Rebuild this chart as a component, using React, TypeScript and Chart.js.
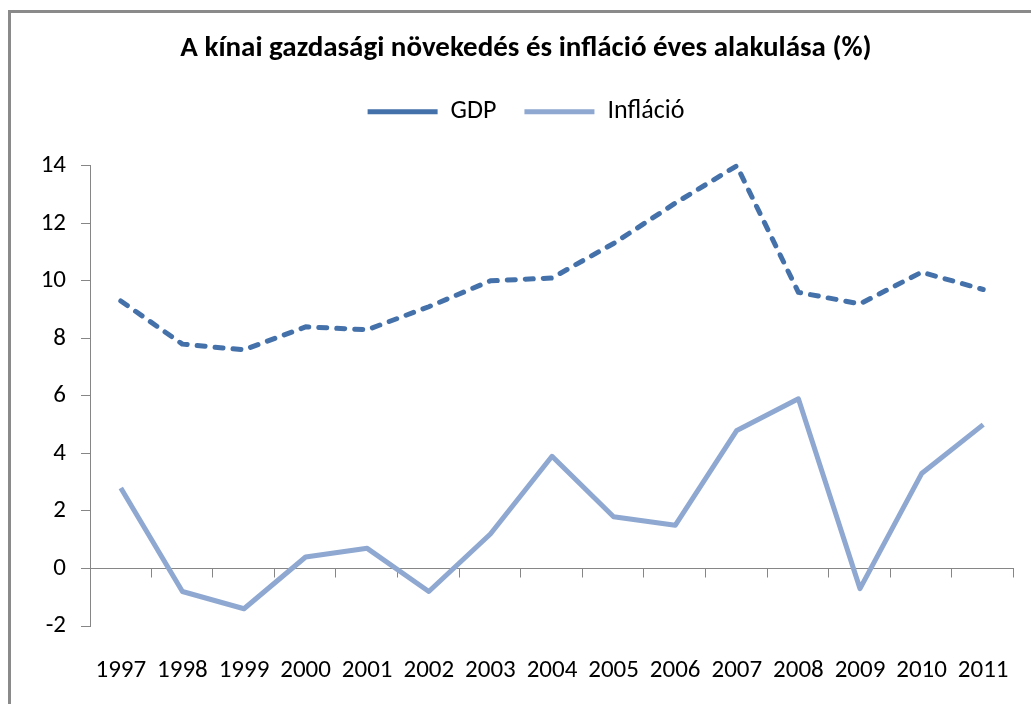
import React, { useEffect, useRef } from "react";
import { Chart, registerables } from "chart.js";

Chart.register(...registerables);

const titleText = "A kínai gazdasági növekedés és infláció éves alakulása (%)";
const years = ["1997", "1998", "1999", "2000", "2001", "2002", "2003", "2004", "2005", "2006", "2007", "2008", "2009", "2010", "2011"];
const gdpLabel = "GDP";
const inflationLabel = "Infláció";
const gdp = [9.3, 7.8, 7.6, 8.4, 8.3, 9.1, 10.0, 10.1, 11.3, 12.7, 14.0, 9.6, 9.2, 10.3, 9.7];
const inflation = [2.8, -0.8, -1.4, 0.4, 0.7, -0.8, 1.2, 3.9, 1.8, 1.5, 4.8, 5.9, -0.7, 3.3, 5.0];
const yMin = -2;
const yMax = 14;
const yStep = 2;

const FONT = "Carlito, Calibri, Lato, 'Open Sans', sans-serif";
const AXIS_GRAY = "#868686";

const framePlugin = {
  id: "frame",
  beforeDraw(chart: any) {
    const { ctx, width, height } = chart;
    ctx.save();
    ctx.fillStyle = "#ffffff";
    ctx.fillRect(0, 0, width, height);
    ctx.fillStyle = "#8a8a8a";
    ctx.fillRect(8, 10, width - 8, 3);
    ctx.fillRect(8, 10, 3, height - 10);
    ctx.restore();
  },
};

const zeroAxisPlugin = {
  id: "zeroAxis",
  beforeDatasetsDraw(chart: any) {
    const { ctx } = chart;
    const x = chart.scales.x;
    const y = chart.scales.y;
    const y0 = Math.round(y.getPixelForValue(0)) + 0.5;
    const n = chart.data.labels.length;
    const w = (x.right - x.left) / n;
    ctx.save();
    ctx.strokeStyle = AXIS_GRAY;
    ctx.lineWidth = 1;
    ctx.beginPath();
    ctx.moveTo(x.left, y0);
    ctx.lineTo(x.right, y0);
    for (let i = 1; i <= n; i++) {
      const px = Math.round(x.left + i * w) - 0.5;
      ctx.moveTo(px, y0);
      ctx.lineTo(px, y0 + 9);
    }
    ctx.stroke();
    ctx.restore();
  },
};

export default function App() {
  const ref = useRef<HTMLCanvasElement>(null);

  useEffect(() => {
    if (!ref.current) return;
    const chart = new Chart(ref.current, {
      type: "line",
      data: {
        labels: years,
        datasets: [
          {
            label: gdpLabel,
            data: gdp,
            xAxisID: "x",
            yAxisID: "y",
            borderColor: "#4471AA",
            backgroundColor: "#4471AA",
            borderWidth: 5,
            borderDash: [8, 10],
            borderCapStyle: "round",
            borderJoinStyle: "round",
            pointRadius: 0,
            tension: 0,
            clip: false,
          } as any,
          {
            label: inflationLabel,
            data: inflation,
            xAxisID: "x",
            yAxisID: "y",
            borderColor: "#8EA8D1",
            backgroundColor: "#8EA8D1",
            borderWidth: 5,
            borderJoinStyle: "round",
            pointRadius: 0,
            tension: 0,
            clip: false,
          } as any,
        ],
      },
      options: {
        responsive: false,
        animation: false,
        events: [],
        layout: { padding: { left: 38, right: 17, top: 0, bottom: 0 } },
        plugins: {
          title: {
            display: true,
            text: titleText,
            color: "#000000",
            font: { family: FONT, size: 29, weight: "bold" },
            padding: { top: 31, bottom: 5 },
          },
          legend: {
            display: true,
            position: "top",
            labels: {
              usePointStyle: true,
              pointStyle: "line",
              pointStyleWidth: 70,
              padding: 28,
              color: "#000000",
              font: { family: FONT, size: 26 },
            },
          },
          tooltip: { enabled: false },
        },
        scales: {
          x: {
            type: "category",
            position: "bottom",
            offset: true,
            grid: { display: false, drawTicks: false },
            border: { display: false },
            ticks: {
              color: "#000000",
              font: { family: FONT, size: 25 },
              padding: 30,
              maxRotation: 0,
              autoSkip: false,
            },
            afterFit: (s: any) => {
              s.height = 78;
              s.paddingLeft = 0;
              s.paddingRight = 0;
            },
          },
          xTop: {
            type: "category",
            position: "top",
            offset: true,
            display: true,
            grid: { display: false, drawTicks: false },
            border: { display: false },
            ticks: { display: false },
            afterFit: (s: any) => {
              s.height = 31;
              s.paddingLeft = 0;
              s.paddingRight = 0;
            },
          },
          y: {
            min: yMin,
            max: yMax,
            ticks: {
              stepSize: yStep,
              color: "#000000",
              font: { family: FONT, size: 25 },
              padding: 15,
            },
            grid: {
              drawOnChartArea: false,
              tickLength: 9,
              color: AXIS_GRAY,
              lineWidth: 1,
            },
            border: { display: true, color: AXIS_GRAY, width: 1 },
            afterFit: (s: any) => {
              s.width = 52;
            },
          },
        } as any,
      },
      plugins: [framePlugin, zeroAxisPlugin],
    });
    return () => chart.destroy();
  }, []);

  return (
    <div style={{ position: "absolute", left: 0, top: 0, width: 1031, height: 704 }}>
      <canvas ref={ref} width={1031} height={704} style={{ display: "block" }} />
    </div>
  );
}
